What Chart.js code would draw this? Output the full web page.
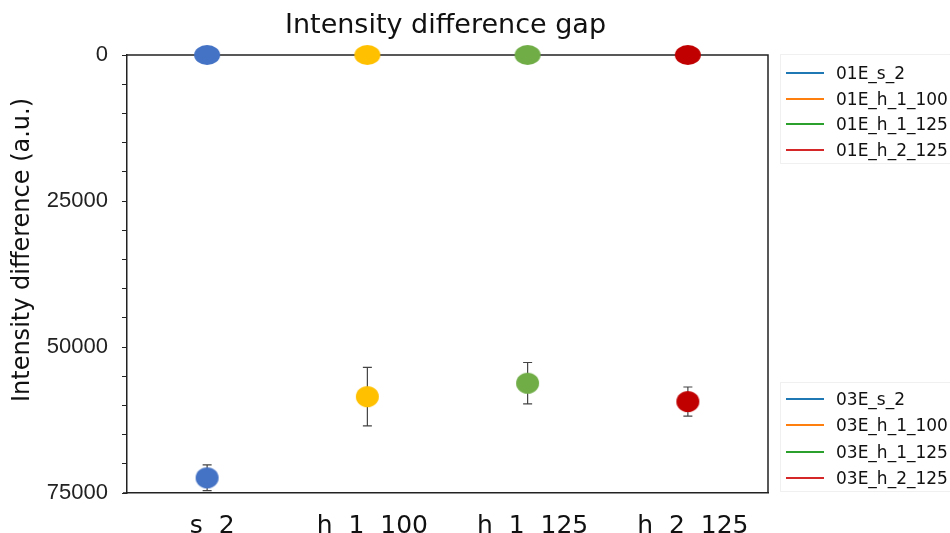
<!DOCTYPE html>
<html><head><meta charset="utf-8">
<script src="https://cdn.jsdelivr.net/npm/chart.js@4/dist/chart.umd.min.js"></script>
<style>
html,body{margin:0;padding:0;background:#fff;}
#wrap{position:relative;width:950px;height:533px;overflow:hidden;}
#c{position:absolute;left:0;top:0;}
.legend{position:absolute;left:780px;width:175px;font-family:'DejaVu Sans';font-size:17px;color:#111;border:1px solid #f0f0f0;border-right:none;}
.item{position:absolute;left:0;height:20px;display:flex;align-items:center;white-space:nowrap;}
.item .l{display:inline-block;width:38px;height:2px;margin-left:5px;margin-right:12px;}
</style></head><body>
<div id="wrap"><canvas id="c" width="950" height="533"></canvas>
<div id="leg1" class="legend" style="top:54px;height:108px;"></div>
<div id="leg2" class="legend" style="top:382px;height:108px;"></div></div>
<script>
const categories = ['s 2', 'h 1 100', 'h 1 125', 'h 2 125'];
const values01E = [0, 0, 0, 0];
const values03E = [72400, 58500, 56200, 59350];
const errors03E = [2200, 5000, 3550, 2500];
const legend01E = ['01E_s_2', '01E_h_1_100', '01E_h_1_125', '01E_h_2_125'];
const legend03E = ['03E_s_2', '03E_h_1_100', '03E_h_1_125', '03E_h_2_125'];
const yTickLabels = [0, 25000, 50000, 75000];
const chartTitle = 'Intensity difference gap';
const yAxisTitle = 'Intensity difference (a.u.)';

const markerColors = ['#4472C4', '#FFC000', '#70AD47', '#C00000'];
const legendColors = ['#1f77b4', '#ff7f0e', '#2ca02c', '#d62728'];

function ellipse(color, w, h) {
  const cv = document.createElement('canvas');
  cv.width = w + 2; cv.height = h + 2;
  const x = cv.getContext('2d');
  x.fillStyle = color;
  x.beginPath();
  x.ellipse((w + 2) / 2, (h + 2) / 2, w / 2, h / 2, 0, 0, Math.PI * 2);
  x.fill();
  return cv;
}

function buildLegend(id, labels, top0, step) {
  const el = document.getElementById(id);
  labels.forEach((t, i) => {
    const d = document.createElement('div');
    d.className = 'item';
    d.style.top = (top0 + i * step) + 'px';
    const l = document.createElement('span');
    l.className = 'l';
    l.style.background = legendColors[i];
    d.appendChild(l);
    d.appendChild(document.createTextNode(t));
    el.appendChild(d);
  });
}
buildLegend('leg1', legend01E, 8, 25.5);
buildLegend('leg2', legend03E, 6, 26.3);

const framePlugin = {
  id: 'frame',
  beforeDatasetsDraw(chart) {
    const { ctx, chartArea: a, scales } = chart;
    ctx.save();
    ctx.strokeStyle = '#222';
    ctx.lineWidth = 1.5;
    ctx.beginPath();
    ctx.moveTo(a.left, a.top); ctx.lineTo(a.right, a.top); ctx.lineTo(a.right, a.bottom);
    ctx.moveTo(a.left - 4, a.bottom); ctx.lineTo(a.left, a.bottom);
    ctx.stroke();
    // error bars
    ctx.strokeStyle = '#444';
    ctx.lineWidth = 1.2;
    const xs = scales.x, ys = scales.y;
    values03E.forEach((v, i) => {
      const x = xs.getPixelForValue(i);
      const y1 = ys.getPixelForValue(v - errors03E[i]);
      const y2 = ys.getPixelForValue(v + errors03E[i]);
      ctx.beginPath();
      ctx.moveTo(x, y1); ctx.lineTo(x, y2);
      ctx.moveTo(x - 4.5, y1); ctx.lineTo(x + 4.5, y1);
      ctx.moveTo(x - 4.5, y2); ctx.lineTo(x + 4.5, y2);
      ctx.stroke();
    });
    ctx.restore();
  },
  afterDraw(chart) {
    const { ctx, chartArea: a } = chart;
    ctx.save();
    ctx.fillStyle = '#111';
    ctx.font = '27px "DejaVu Sans"';
    ctx.textAlign = 'center';
    ctx.textBaseline = 'alphabetic';
    ctx.fillText(chartTitle, (a.left + a.right) / 2 - 2, 33);
    ctx.translate(23, 250);
    ctx.rotate(-Math.PI / 2);
    ctx.font = '24px "DejaVu Sans"';
    ctx.textBaseline = 'middle';
    ctx.fillText(yAxisTitle, 0, 0);
    ctx.restore();
  }
};

new Chart(document.getElementById('c'), {
  type: 'line',
  data: {
    labels: categories,
    datasets: [
      { label: '01E', data: values01E, showLine: false,
        pointStyle: markerColors.map(c => ellipse(c, 26, 20)), clip: false },
      { label: '03E', data: values03E, showLine: false,
        pointStyle: markerColors.map(c => ellipse(c, 23, 21)), clip: false }
    ]
  },
  options: {
    responsive: false,
    animation: false,
    devicePixelRatio: 1,
    layout: { padding: { left: 0, right: 182, top: 55, bottom: 0 } },
    plugins: {
      legend: { display: false },
      tooltip: { enabled: false },
      title: { display: false }
    },
    scales: {
      x: {
        type: 'category',
        offset: true,
        grid: { display: false, drawTicks: false },
        border: { display: true, color: '#222', width: 1.5 },
        ticks: { color: '#111', padding: 18, labelOffset: 5,
          font: { family: 'DejaVu Sans', size: 25 },
          callback: function (v, i) { return categories[i].split(' ').join('  '); } },
        afterFit(s) { s.height = 40; }
      },
      y: {
        reverse: true,
        min: 0, max: 75000,
        afterBuildTicks(s) {
          const t = [];
          for (let v = 0; v <= 75000; v += 5000) t.push({ value: v });
          s.ticks = t;
        },
        ticks: {
          autoSkip: false,
          color: '#222',
          padding: 14,
          font: { family: 'Liberation Sans', size: 22 },
          callback: (v) => yTickLabels.includes(v) ? String(v) : ''
        },
        grid: { drawOnChartArea: false, drawTicks: true, tickLength: 5, color: '#222', lineWidth: 1 },
        border: { display: true, color: '#222', width: 1.5 },
        afterFit(s) { s.width = 127; }
      }
    }
  },
  plugins: [framePlugin]
});
</script>
</body></html>
